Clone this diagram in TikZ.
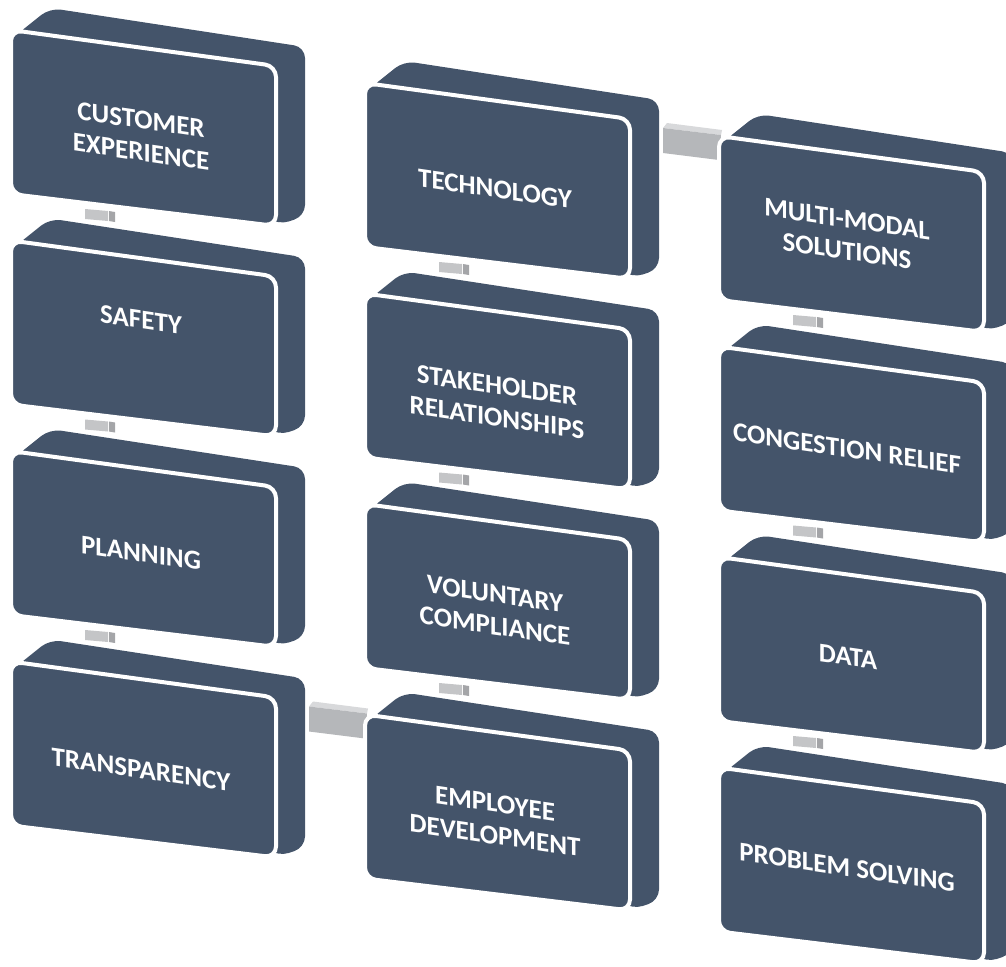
\documentclass[tikz,border=0pt]{standalone}
\usepackage{fontspec}
\setmainfont{Carlito}
\usetikzlibrary{calc}

\definecolor{slate}{HTML}{44546A}
\definecolor{pluglight}{HTML}{C4C5C7}
\definecolor{plugdark}{HTML}{A4A5A8}
\definecolor{barfront}{HTML}{B5B7BA}
\definecolor{bartop}{HTML}{D8D9DB}

\tikzset{
  % a slanted 3D block: back silhouette, then the front face with a white seam
  pics/cube/.style={code={
    \fill[slate, rounded corners=11pt]
      (4,6) -- (39,-22) -- (294,17) -- (294,186) -- (267,195) -- cycle;
    \filldraw[fill=slate, draw=white, line width=4pt, rounded corners=11pt]
      (0,0) -- (265,36) -- (265,196) -- (0,164) -- cycle;
  }},
  % small plug between two stacked blocks
  pics/plug/.style={code={
    \fill[pluglight] (0,0) -- (23,2) -- (23,12) -- (0,10) -- cycle;
    \fill[plugdark] (24,2) -- (30,3) -- (30,13) -- (24,12) -- cycle;
  }},
  % wide bar joining two blocks side by side
  pics/bridge/.style={code={
    \fill[bartop] (4,-5) -- (59,2) -- (58,7) -- (0,0) -- cycle;
    \fill[barfront] (0,0) -- (58,7) -- (56,32) -- (0,25) -- cycle;
  }},
  lbl/.style={text=white, font=\fontsize{27}{32}\selectfont\bfseries,
    align=center, inner sep=0pt, yslant=-0.145},
}

\begin{document}
\begin{tikzpicture}[x=1pt, y=-1pt]
\useasboundingbox (0,0) rectangle (1006,966);

% block origins (front-face corner), three columns of four
\coordinate (b1)  at (11,30);
\coordinate (b2)  at (11,240.5);
\coordinate (b3)  at (11,451);
\coordinate (b4)  at (11,661.5);
\coordinate (b5)  at (365,83);
\coordinate (b6)  at (365,293.5);
\coordinate (b7)  at (365,504);
\coordinate (b8)  at (365,714.5);
\coordinate (b9)  at (719,136);
\coordinate (b10) at (719,346.5);
\coordinate (b11) at (719,557);
\coordinate (b12) at (719,767.5);

% plugs within each column
\foreach \b in {b1,b2,b3,b5,b6,b7,b9,b10,b11}
  \path (\b) ++(74,179) pic {plug};

% bars across columns
\path (b5) ++(298,45) pic {bridge};
\path (b4) ++(298,45) pic {bridge};

% the blocks
\foreach \b in {b1,b2,b3,b4,b5,b6,b7,b8,b9,b10,b11,b12}
  \path (\b) pic {cube};

% captions
\node[lbl] (t1)  at ($(b1)+(130,106)$)  {CUSTOMER\\EXPERIENCE};
\node[lbl] (t2)  at ($(b2)+(130,79)$)   {SAFETY};
\node[lbl] (t3)  at ($(b3)+(130,102)$)  {PLANNING};
\node[lbl] (t4)  at ($(b4)+(130,108)$)  {TRANSPARENCY};
\node[lbl] (t5)  at ($(b5)+(130,106)$)  {TECHNOLOGY};
\node[lbl] (t6)  at ($(b6)+(132,108)$)  {STAKEHOLDER\\RELATIONSHIPS};
\node[lbl] (t7)  at ($(b7)+(130,106)$)  {VOLUNTARY\\COMPLIANCE};
\node[lbl] (t8)  at ($(b8)+(130,105)$)  {EMPLOYEE\\DEVELOPMENT};
\node[lbl] (t9)  at ($(b9)+(128,99)$)   {MULTI-MODAL\\SOLUTIONS};
\node[lbl] (t10) at ($(b10)+(128,102)$) {CONGESTION RELIEF};
\node[lbl] (t11) at ($(b11)+(129,100)$) {DATA};
\node[lbl] (t12) at ($(b12)+(128,100)$) {PROBLEM SOLVING};
\end{tikzpicture}
\end{document}
